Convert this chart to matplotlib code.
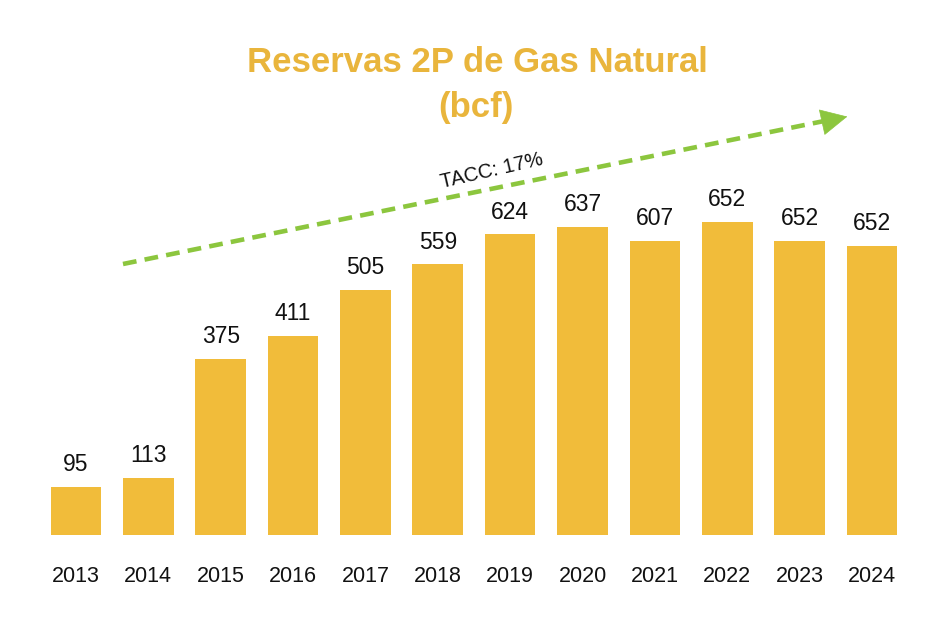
import matplotlib.pyplot as plt

# data
years = ["2013", "2014", "2015", "2016", "2017", "2018",
         "2019", "2020", "2021", "2022", "2023", "2024"]
labels = ["95", "113", "375", "411", "505", "559",
          "624", "637", "607", "652", "652", "652"]
# bar heights as drawn (bcf)
heights = [99, 118, 364, 412, 507, 560, 622, 637, 608, 647, 608, 598]

bar_color = "#F1BC3A"
title_color = "#E9B53C"
green = "#8CC63E"

plt.rcParams["font.family"] = ["Liberation Sans", "DejaVu Sans"]

fig = plt.figure(figsize=(9.51, 6.23), dpi=100)
ax = fig.add_axes([0, 1 - 535 / 623, 1, 535 / 623])

x = list(range(len(years)))
ax.bar(x, heights, width=0.70, color=bar_color)
ax.set_xlim(-1.050, 12.092)
ax.set_ylim(0, 535 * 637 / 308)
ax.axis("off")

for i, (h, lab) in enumerate(zip(heights, labels)):
    ax.annotate(lab, (i, h), xytext=(0, 16), textcoords="offset points",
                ha="center", va="center", fontsize=16.5, color="#111111")
    ax.annotate(years[i], (i, 0), xytext=(0, -30), textcoords="offset points",
                ha="center", va="center", fontsize=15.5, color="#111111")

# overlay in pixel units for title and trend arrow
ov = fig.add_axes([0, 0, 1, 1], facecolor="none")
ov.set_xlim(0, 951)
ov.set_ylim(623, 0)
ov.axis("off")

ov.text(477, 63, "Reservas 2P de Gas Natural", ha="center", va="center",
        fontsize=25, fontweight="bold", color=title_color)
ov.text(476, 107, "(bcf)", ha="center", va="center",
        fontsize=25, fontweight="bold", color=title_color)

ov.plot([123, 834], [264, 119], color=green, lw=3.3, dashes=(3, 1.8),
        solid_capstyle="butt", dash_capstyle="butt")
ov.annotate("", xy=(850, 116), xytext=(832, 120),
            arrowprops=dict(arrowstyle="-|>,head_length=0.9,head_width=0.45",
                            color=green, lw=0.5, mutation_scale=20))

ov.text(492, 171, "TACC: 17%", ha="center", va="center", rotation=13,
        fontsize=14.5, color="#111111", fontstretch="condensed")

fig.savefig("out.png", dpi=100)
